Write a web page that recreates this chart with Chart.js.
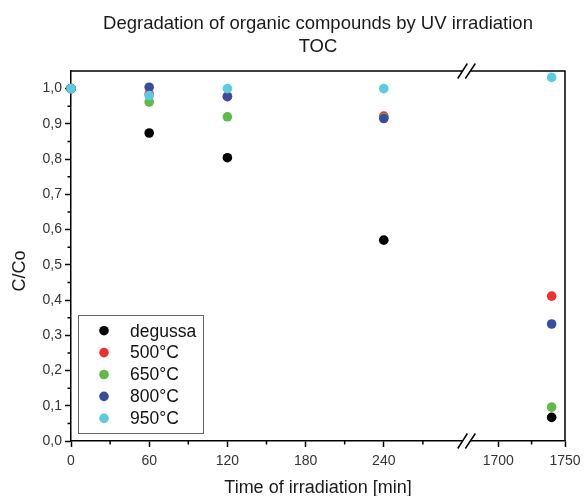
<!DOCTYPE html>
<html><head><meta charset="utf-8">
<script src="https://cdn.jsdelivr.net/npm/chart.js@4.4.1/dist/chart.umd.min.js"></script>
<style>html,body{margin:0;padding:0;background:#fff}canvas{display:block}</style>
</head><body>
<canvas id="c" width="584" height="496"></canvas>
<script>
const TITLE = ['Degradation of organic compounds by UV irradiation', 'TOC'];
const X_TITLE = 'Time of irradiation [min]';
const Y_TITLE = 'C/Co';

const TIMES = [0, 60, 120, 240, 1740];
const SERIES_NAMES = ['degussa', '500°C', '650°C', '800°C', '950°C'];
const DEGUSSA = [1.000, 0.874, 0.804, 0.570, 0.067];
const T500 = [1.000, 0.985, 0.978, 0.922, 0.411];
const T650 = [1.000, 0.962, 0.920, 0.918, 0.096];
const T800 = [1.000, 1.004, 0.977, 0.915, 0.332];
const T950 = [1.000, 0.980, 1.000, 1.000, 1.032];
const COLORS = ['#000000', '#ee3030', '#5dbb46', '#3a4ca0', '#5ccbe0'];

const X_MAJOR = [0, 60, 120, 180, 240, 1700, 1750];
const X_MINOR = [30, 90, 150, 210, 270, 1725];
const Y_MINOR = [0.05, 0.15, 0.25, 0.35, 0.45, 0.55, 0.65, 0.75, 0.85, 0.95];

// broken x axis: the gap between BREAK_FROM and BREAK_TO is removed
const BREAK_FROM = 303.5, BREAK_TO = 1676.3, SEG2_FACTOR = 1.025;
function bx(t) { return t <= BREAK_FROM ? t : BREAK_FROM + (t - BREAK_TO) * SEG2_FACTOR; }

const FONT = '"Liberation Sans", Arial, sans-serif';
const VALUES = [DEGUSSA, T500, T650, T800, T950];

const datasets = SERIES_NAMES.map((name, i) => ({
  label: name,
  data: TIMES.map((t, j) => ({ x: bx(t), y: VALUES[i][j] })),
  backgroundColor: COLORS[i],
  borderColor: COLORS[i],
  pointRadius: 4.8,
  pointBorderWidth: 0,
  pointHoverRadius: 4.8,
  showLine: false,
  clip: false,
  order: SERIES_NAMES.length - i
}));

const decor = {
  id: 'decor',
  afterDraw(chart) {
    const { ctx, chartArea: a, scales: { x, y } } = chart;
    ctx.save();
    ctx.strokeStyle = '#000';
    ctx.lineWidth = 1.5;
    ctx.beginPath();
    ctx.moveTo(a.left, a.top); ctx.lineTo(a.right, a.top); ctx.lineTo(a.right, a.bottom);
    ctx.stroke();
    ctx.beginPath();
    Y_MINOR.forEach(v => { const p = y.getPixelForValue(v); ctx.moveTo(a.left, p); ctx.lineTo(a.left - 3.5, p); });
    X_MINOR.forEach(v => { const p = x.getPixelForValue(bx(v)); ctx.moveTo(p, a.bottom); ctx.lineTo(p, a.bottom + 3.5); });
    ctx.stroke();
    // break marks
    const xb = x.getPixelForValue(BREAK_FROM);
    [a.top, a.bottom].forEach(yy => {
      ctx.fillStyle = '#fff';
      ctx.fillRect(xb - 4, yy - 2.5, 7.8, 5);
      ctx.beginPath();
      ctx.moveTo(xb - 8.8, yy + 7.5); ctx.lineTo(xb + 0.8, yy - 7.5);
      ctx.moveTo(xb - 1.2, yy + 7.5); ctx.lineTo(xb + 8.8, yy - 7.5);
      ctx.stroke();
    });
    // titles
    const cx = (a.left + a.right) / 2;
    ctx.fillStyle = '#1a1a1a';
    ctx.textAlign = 'center';
    ctx.textBaseline = 'alphabetic';
    ctx.font = '18.5px ' + FONT;
    ctx.fillText(TITLE[0], cx, 29);
    ctx.fillText(TITLE[1], cx, 52);
    ctx.font = '18px ' + FONT;
    ctx.fillText(X_TITLE, cx, 493);
    ctx.save();
    ctx.translate(20, 271);
    ctx.rotate(-Math.PI / 2);
    ctx.textBaseline = 'middle';
    ctx.fillText(Y_TITLE, 0, 0);
    ctx.restore();
    // legend
    ctx.fillStyle = '#fff';
    ctx.fillRect(78.5, 315.5, 125, 118);
    ctx.strokeStyle = '#666';
    ctx.lineWidth = 1;
    ctx.strokeRect(78.5, 315.5, 125, 118);
    ctx.font = '17.5px ' + FONT;
    ctx.textAlign = 'left';
    ctx.textBaseline = 'middle';
    chart.data.datasets.forEach((ds, i) => {
      const ry = 330.7 + i * 21.9;
      ctx.fillStyle = ds.backgroundColor;
      ctx.beginPath(); ctx.arc(104, ry, 4.8, 0, Math.PI * 2); ctx.fill();
      ctx.fillStyle = '#111';
      ctx.fillText(ds.label, 130, ry + 1);
    });
    ctx.restore();
  }
};

const tickFont = { family: FONT, size: 14 };
const gridOpts = { display: true, drawOnChartArea: false, drawTicks: true, tickLength: 6, tickWidth: 1.5, tickColor: '#000', color: '#000' };
const borderOpts = { display: true, color: '#000', width: 1.5 };

new Chart(document.getElementById('c'), {
  type: 'scatter',
  data: { datasets },
  options: {
    responsive: false,
    animation: false,
    devicePixelRatio: 1,
    events: [],
    layout: { padding: { top: 71, right: 19, left: 0, bottom: 0 } },
    plugins: { legend: { display: false }, tooltip: { enabled: false }, title: { display: false } },
    scales: {
      x: {
        type: 'linear', min: 0, max: bx(1750),
        afterFit(s) { s.height = 55; s.paddingLeft = 0; s.paddingRight = 0; },
        afterBuildTicks(s) { s.ticks = X_MAJOR.map(v => ({ value: bx(v) })); },
        ticks: { autoSkip: false, maxRotation: 0, padding: 6, font: tickFont, color: '#333',
          callback: (v, i) => String(X_MAJOR[i]) },
        grid: gridOpts, border: borderOpts
      },
      y: {
        type: 'linear', min: 0, max: 1.05,
        afterFit(s) { s.width = 71; s.paddingTop = 0; s.paddingBottom = 0; },
        ticks: { stepSize: 0.1, includeBounds: false, padding: 3, font: tickFont, color: '#333',
          callback: v => v.toFixed(1).replace('.', ',') },
        grid: gridOpts, border: borderOpts
      }
    }
  },
  plugins: [decor]
});
</script>
</body></html>
